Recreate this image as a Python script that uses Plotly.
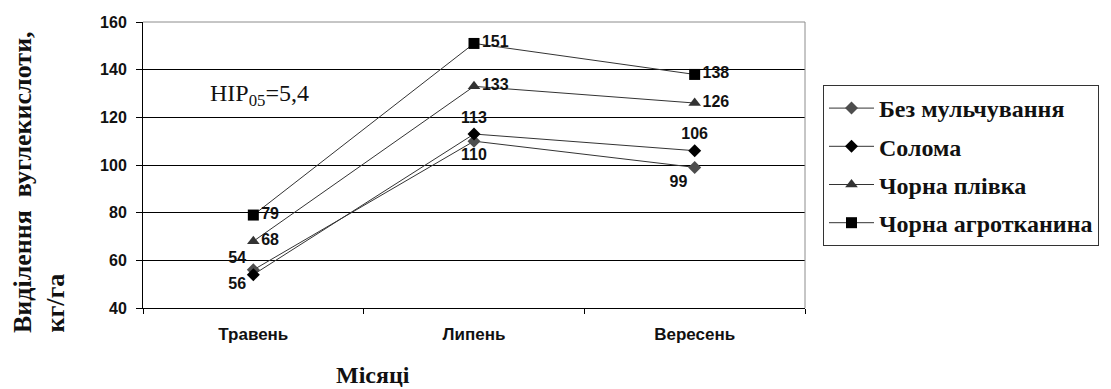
import plotly.graph_objects as go

# Months and CO2 emission values (kg/ha) for each mulching variant
months = ["Травень", "Липень", "Вересень"]
no_mulch = [56, 110, 99]
straw = [54, 113, 106]
black_film = [68, 133, 126]
black_agrofabric = [79, 151, 138]
y_ticks = [40, 60, 80, 100, 120, 140, 160]

W, H = 1111, 389
L, R, T, B = 143, 805, 22, 308  # plot area in pixels


def px(xp):
    return (xp - L) / (R - L)


def py(yp):
    return (B - yp) / (B - T)


label_font = dict(family="Liberation Sans", size=16, color="#111111", weight="bold")
serif_bold = dict(family="Liberation Serif", color="#111111", weight="bold")

series = [
    ("Без мульчування", no_mulch, "diamond", 10, "#4d4d4d",
     ["bottom left", "bottom center", "bottom left"]),
    ("Солома", straw, "diamond", 10, "#000000",
     ["top left", "top center", "top center"]),
    ("Чорна плівка", black_film, "triangle-up", 11, "#333333",
     ["middle right", "middle right", "middle right"]),
    ("Чорна агротканина", black_agrofabric, "square", 11, "#000000",
     ["middle right", "middle right", "middle right"]),
]

fig = go.Figure()
for i, (name, vals, sym, size, color, tpos) in enumerate(series):
    fig.add_trace(go.Scatter(
        x=months, y=vals, name=name, mode="lines+markers+text",
        line=dict(color="#333333", width=1),
        marker=dict(symbol=sym, size=size, color=color, line=dict(width=0)),
        text=[str(v) for v in vals], textposition=tpos,
        textfont=label_font, cliponaxis=False,
        legendgroup=f"g{i}",
    ))

fig.update_layout(
    width=W, height=H,
    margin=dict(l=L, r=W - R, t=T, b=H - B, autoexpand=False),
    paper_bgcolor="white", plot_bgcolor="white",
    showlegend=True,
    legend=dict(
        x=px(823), y=py(85), xanchor="left", yanchor="top",
        bgcolor="white", bordercolor="#333333", borderwidth=1,
        font=dict(size=24, **serif_bold),
        tracegroupgap=4, itemwidth=45,
    ),
    xaxis=dict(
        type="category", categoryorder="array", categoryarray=months,
        range=[-0.5, 2.5],
        tickson="boundaries", ticks="outside", ticklen=5, tickcolor="black",
        showline=True, linecolor="black", linewidth=1, showgrid=False,
        tickfont=dict(family="Liberation Sans", size=17, color="#111111", weight="bold"),
        ticklabelstandoff=11,
    ),
    yaxis=dict(
        range=[40, 160], tickvals=y_ticks, ticks="outside", ticklen=6,
        tickcolor="black", showline=True, linecolor="black", linewidth=1,
        showgrid=True, gridcolor="black", gridwidth=1, zeroline=False,
        tickfont=dict(family="Liberation Sans", size=16, color="#111111", weight="bold"),
        ticklabelstandoff=6,
    ),
    shapes=[
        dict(type="line", xref="paper", yref="paper", x0=0, x1=1, y0=1, y1=1,
             line=dict(color="#8c8c8c", width=1), layer="above"),
        dict(type="line", xref="paper", yref="paper", x0=1, x1=1, y0=0, y1=1,
             line=dict(color="#8c8c8c", width=1), layer="above"),
    ],
    annotations=[
        dict(text="Виділення\u00a0 вуглекислоти,", xref="paper", yref="paper",
             x=px(22), y=py(335), xanchor="center", yanchor="bottom",
             textangle=-90, showarrow=False, font=dict(size=26, **serif_bold)),
        dict(text="кг/га", xref="paper", yref="paper",
             x=px(55), y=py(335), xanchor="center", yanchor="bottom",
             textangle=-90, showarrow=False, font=dict(size=26, **serif_bold)),
        dict(text="Місяці", xref="paper", yref="paper",
             x=px(373), y=py(375), xanchor="center", yanchor="middle",
             showarrow=False, font=dict(size=24, **serif_bold)),
        dict(text="НІР<sub>05</sub>=5,4", xref="paper", yref="paper",
             x=px(208), y=py(95), xanchor="left", yanchor="middle",
             showarrow=False,
             font=dict(family="Liberation Serif", size=24, color="#111111")),
    ],
)

fig.write_html("out.html")
